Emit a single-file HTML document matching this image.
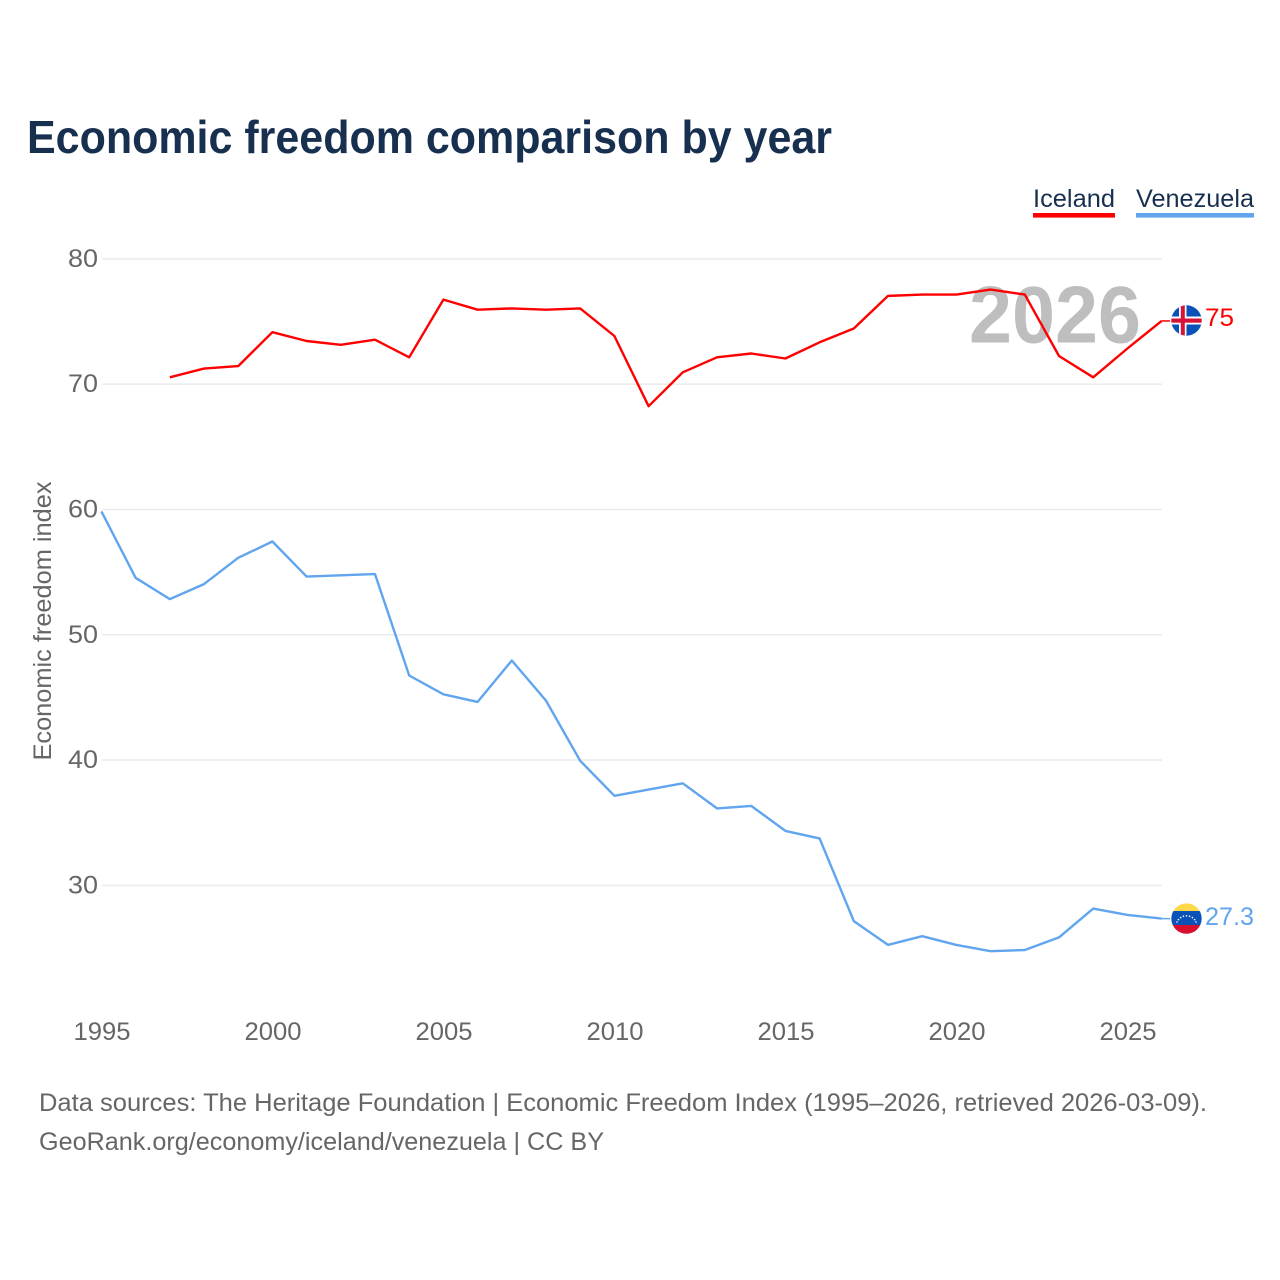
<!DOCTYPE html>
<html lang="en">
<head>
<meta charset="utf-8">
<title>Economic freedom comparison by year</title>
<style>
html,body{margin:0;padding:0;background:#fff;}
svg{display:block;font-family:"Liberation Sans",sans-serif;}
</style>
</head>
<body>
<svg id="chart" xmlns="http://www.w3.org/2000/svg" width="1280" height="1280" viewBox="0 0 1280 1280">
  <rect x="0" y="0" width="1280" height="1280" fill="#ffffff"/>
  <text x="27" y="153" font-size="46" font-weight="700" fill="#18304f" textLength="805" lengthAdjust="spacingAndGlyphs">Economic freedom comparison by year</text>

  <g>
    <text x="1033" y="207" font-size="25" fill="#18304f" textLength="82" lengthAdjust="spacingAndGlyphs">Iceland</text>
    <rect x="1033" y="213" width="82" height="4.6" fill="#ff0000"/>
  </g>
  <g>
    <text x="1136" y="207" font-size="25" fill="#18304f" textLength="118" lengthAdjust="spacingAndGlyphs">Venezuela</text>
    <rect x="1136" y="213" width="118" height="4.6" fill="#60a5ee"/>
  </g>

  <g id="grid"></g>
  <g id="y-labels"></g>
  <g id="x-labels"></g>

  <text transform="translate(51,621) rotate(-90)" text-anchor="middle" font-size="25" fill="#666666" textLength="279" lengthAdjust="spacingAndGlyphs">Economic freedom index</text>

  <text x="1055" y="342.5" text-anchor="middle" font-size="81" font-weight="700" fill="#bebebe" textLength="172" lengthAdjust="spacingAndGlyphs">2026</text>

  <g id="series"></g>

  <defs>
    <clipPath id="clip-is"><circle cx="1186.5" cy="320.5" r="15.2"/></clipPath>
    <clipPath id="clip-ve"><circle cx="1186.5" cy="918.6" r="15.2"/></clipPath>
  </defs>

  <g clip-path="url(#clip-is)">
    <rect x="1171" y="305" width="31" height="31" fill="#0b52b8"/>
    <rect x="1179" y="305" width="7.5" height="31" fill="#ffffff"/>
    <rect x="1171" y="316.5" width="31" height="8" fill="#ffffff"/>
    <rect x="1180.8" y="305" width="4" height="31" fill="#d8133a"/>
    <rect x="1171" y="318.5" width="31" height="4.2" fill="#d8133a"/>
  </g>
  <g clip-path="url(#clip-ve)">
    <rect x="1171" y="903" width="31" height="8" fill="#ffd84a"/>
    <rect x="1171" y="911" width="31" height="14" fill="#0b52b8"/>
    <rect x="1171" y="925" width="31" height="10" fill="#d8102f"/>
    <g fill="#ffffff">
      <circle cx="1177" cy="922" r="0.8"/><circle cx="1178.4" cy="919.6" r="0.8"/><circle cx="1180.6" cy="917.6" r="0.8"/>
      <circle cx="1183.4" cy="916.2" r="0.8"/><circle cx="1186.5" cy="915.8" r="0.8"/><circle cx="1189.6" cy="916.2" r="0.8"/>
      <circle cx="1192.4" cy="917.6" r="0.8"/><circle cx="1194.6" cy="919.6" r="0.8"/><circle cx="1196" cy="922" r="0.8"/>
    </g>
  </g>

  <text x="1205" y="326" font-size="25" fill="#ff0000" textLength="29" lengthAdjust="spacingAndGlyphs">75</text>
  <text x="1205" y="925" font-size="25" fill="#60a5ee" textLength="49" lengthAdjust="spacingAndGlyphs">27.3</text>

  <text x="39" y="1111" font-size="25" fill="#666666" textLength="1168" lengthAdjust="spacingAndGlyphs">Data sources: The Heritage Foundation | Economic Freedom Index (1995–2026, retrieved 2026-03-09).</text>
  <text x="39" y="1150" font-size="25" fill="#666666" textLength="565" lengthAdjust="spacingAndGlyphs">GeoRank.org/economy/iceland/venezuela | CC BY</text>
</svg>
<script>
const years = [1995,1996,1997,1998,1999,2000,2001,2002,2003,2004,2005,2006,2007,2008,2009,2010,2011,2012,2013,2014,2015,2016,2017,2018,2019,2020,2021,2022,2023,2024,2025,2026];
const iceland = [null,null,70.5,71.2,71.4,74.1,73.4,73.1,73.5,72.1,76.7,75.9,76.0,75.9,76.0,73.8,68.2,70.9,72.1,72.4,72.0,73.3,74.4,77.0,77.1,77.1,77.5,77.1,72.2,70.5,72.8,75.0];
const venezuela = [59.8,54.5,52.8,54.0,56.1,57.4,54.6,54.7,54.8,46.7,45.2,44.6,47.9,44.7,39.9,37.1,37.6,38.1,36.1,36.3,34.3,33.7,27.1,25.2,25.9,25.2,24.7,24.8,25.8,28.1,27.6,27.3];
const yTicks = [30,40,50,60,70,80];
const xTicks = [1995,2000,2005,2010,2015,2020,2025];

const NS = 'http://www.w3.org/2000/svg';
const xScale = function (year) { return 101.4 + (year - 1995) * 34.2; };
const yScale = function (value) { return 258.3 + (80 - value) * 12.53; };

const gridGroup = document.getElementById('grid');
const yLabelGroup = document.getElementById('y-labels');
const xLabelGroup = document.getElementById('x-labels');
const seriesGroup = document.getElementById('series');

yTicks.forEach(function (tick) {
  const line = document.createElementNS(NS, 'line');
  
  
  line.setAttribute('x1', 102);
  line.setAttribute('x2', 1162);
  line.setAttribute('y1', yScale(tick) + 0.6);
  line.setAttribute('y2', yScale(tick) + 0.6);
  line.setAttribute('stroke', '#ececec');
  line.setAttribute('stroke-width', 1.6);
  gridGroup.appendChild(line);

  const label = document.createElementNS(NS, 'text');
  
  
  label.setAttribute('x', 98);
  label.setAttribute('y', yScale(tick) + 8.6);
  label.setAttribute('text-anchor', 'end');
  label.setAttribute('font-size', 25);
  label.setAttribute('fill', '#666666');
  label.setAttribute('textLength', 30);
  label.setAttribute('lengthAdjust', 'spacingAndGlyphs');
  label.textContent = String(tick);
  yLabelGroup.appendChild(label);
});

xTicks.forEach(function (tick) {
  const label = document.createElementNS(NS, 'text');
  
  
  label.setAttribute('x', xScale(tick) + 0.6);
  label.setAttribute('y', 1040);
  label.setAttribute('text-anchor', 'middle');
  label.setAttribute('font-size', 25);
  label.setAttribute('fill', '#666666');
  label.setAttribute('textLength', 57);
  label.setAttribute('lengthAdjust', 'spacingAndGlyphs');
  label.textContent = String(tick);
  xLabelGroup.appendChild(label);
});

function buildPoints(values) {
  const parts = [];
  values.forEach(function (value, i) {
    if (value !== null) {
      parts.push(xScale(years[i]).toFixed(1) + ',' + yScale(value).toFixed(1));
    }
  });
  return parts.join(' ');
}

const venezuelaLine = document.createElementNS(NS, 'polyline');


venezuelaLine.setAttribute('points', buildPoints(venezuela));
venezuelaLine.setAttribute('fill', 'none');
venezuelaLine.setAttribute('stroke', '#60a5ee');
venezuelaLine.setAttribute('stroke-width', 2.4);
venezuelaLine.setAttribute('stroke-linejoin', 'round');
seriesGroup.appendChild(venezuelaLine);

const icelandLine = document.createElementNS(NS, 'polyline');


icelandLine.setAttribute('points', buildPoints(iceland));
icelandLine.setAttribute('fill', 'none');
icelandLine.setAttribute('stroke', '#ff0000');
icelandLine.setAttribute('stroke-width', 2.4);
icelandLine.setAttribute('stroke-linejoin', 'round');
seriesGroup.appendChild(icelandLine);

const icelandConnector = document.createElementNS(NS, 'line');


icelandConnector.setAttribute('x1', xScale(2026));
icelandConnector.setAttribute('x2', 1170);
icelandConnector.setAttribute('y1', yScale(iceland[iceland.length - 1]));
icelandConnector.setAttribute('y2', yScale(iceland[iceland.length - 1]));
icelandConnector.setAttribute('stroke', '#ff0000');
icelandConnector.setAttribute('stroke-width', 1.5);
seriesGroup.appendChild(icelandConnector);

const venezuelaConnector = document.createElementNS(NS, 'line');


venezuelaConnector.setAttribute('x1', xScale(2026));
venezuelaConnector.setAttribute('x2', 1170);
venezuelaConnector.setAttribute('y1', yScale(venezuela[venezuela.length - 1]));
venezuelaConnector.setAttribute('y2', yScale(venezuela[venezuela.length - 1]));
venezuelaConnector.setAttribute('stroke', '#60a5ee');
venezuelaConnector.setAttribute('stroke-width', 1.5);
seriesGroup.appendChild(venezuelaConnector);
</script>
</body>
</html>
